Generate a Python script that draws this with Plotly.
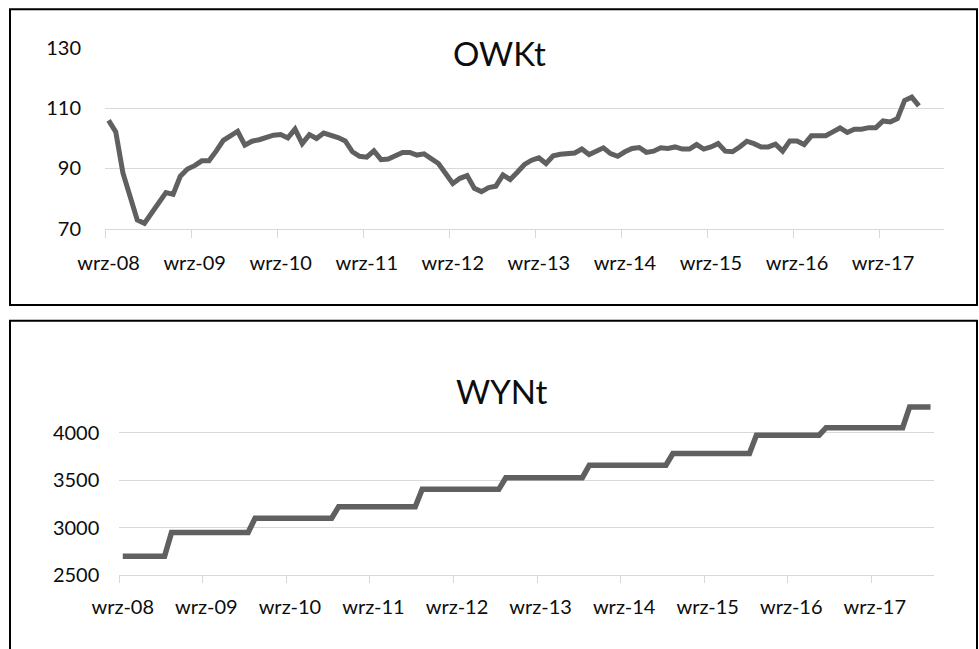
import plotly.graph_objects as go

W, H = 979, 649

# ---- data ----
month_names = ["sty", "lut", "mar", "kwi", "maj", "cze", "lip", "sie", "wrz", "paź", "lis", "gru"]
start_year, start_month = 2008, 9
n_months = 117
months = []
for k in range(n_months):
    m = (start_month - 1 + k) % 12
    y = start_year + (start_month - 1 + k) // 12
    months.append(f"{month_names[m]}-{y % 100:02d}")

owk = [
    105.9, 102.1, 88.5, 80.6, 72.9, 71.8, 75.1, 78.8, 82.0, 81.4, 87.4, 89.8,
    90.9, 92.5, 92.5, 95.7, 99.3, 100.8, 102.3, 97.7, 99.0, 99.5, 100.4, 101.0,
    101.2, 100.1, 103.0, 98.2, 101.2, 99.9, 101.7, 101.0, 100.2, 99.1, 95.5, 94.0,
    93.7, 95.8, 92.9, 93.1, 94.3, 95.3, 95.3, 94.4, 94.8, 93.3, 91.6, 88.3,
    85.0, 86.7, 87.6, 83.4, 82.3, 83.6, 84.1, 87.8, 86.3, 88.7, 91.3, 92.7,
    93.5, 91.6, 94.2, 94.7, 95.1, 95.1, 96.4, 94.6, 95.7, 96.8, 94.9, 94.0,
    95.5, 96.6, 96.9, 95.3, 95.7, 96.8, 96.6, 97.1, 96.4, 96.4, 97.9, 96.4,
    97.1, 98.2, 95.7, 95.5, 97.1, 99.0, 98.2, 97.1, 97.1, 98.0, 95.7, 99.1,
    99.1, 97.9, 100.8, 100.8, 100.8, 102.1, 103.4, 101.9, 103.0, 103.0, 103.5, 103.5,
    105.7, 105.4, 106.5, 112.5, 113.6, 110.7,
]

wyn = [
    2700, 2700, 2700, 2700, 2700, 2700, 2700, 2950, 2950, 2950, 2950, 2950,
    2950, 2950, 2950, 2950, 2950, 2950, 2950, 3100, 3100, 3100, 3100, 3100,
    3100, 3100, 3100, 3100, 3100, 3100, 3100, 3222, 3222, 3222, 3222, 3222,
    3222, 3222, 3222, 3222, 3222, 3222, 3222, 3405, 3405, 3405, 3405, 3405,
    3405, 3405, 3405, 3405, 3405, 3405, 3405, 3527, 3527, 3527, 3527, 3527,
    3527, 3527, 3527, 3527, 3527, 3527, 3527, 3658, 3658, 3658, 3658, 3658,
    3658, 3658, 3658, 3658, 3658, 3658, 3658, 3781, 3781, 3781, 3781, 3781,
    3781, 3781, 3781, 3781, 3781, 3781, 3781, 3975, 3975, 3975, 3975, 3975,
    3975, 3975, 3975, 3975, 3975, 4053, 4053, 4053, 4053, 4053, 4053, 4053,
    4053, 4053, 4053, 4053, 4053, 4272, 4272, 4272, 4272,
]

owk_ticks = [70, 90, 110, 130]
wyn_ticks = [2500, 3000, 3500, 4000]
label_idx = list(range(0, n_months, 12))
label_text = [months[i] for i in label_idx]

titles = ["OWKt", "WYNt"]

# ---- figure ----
LINE = "#606060"
GRID = "#d9d9d9"
TXT = "#0d0d0d"
FONT = "Lato"

def px_x(p):
    return p / W

def px_y(p):
    return 1 - p / H

fig = go.Figure()
fig.add_trace(go.Scatter(x=list(range(len(owk))), y=owk, mode="lines",
                         line=dict(color=LINE, width=5), xaxis="x", yaxis="y",
                         hoverinfo="skip"))
fig.add_trace(go.Scatter(x=list(range(len(wyn))), y=wyn, mode="lines",
                         line=dict(color=LINE, width=5.5), xaxis="x2", yaxis="y2",
                         hoverinfo="skip"))

xcommon = dict(
    range=[-0.5, n_months - 0.5], tickmode="array", tickvals=label_idx, ticktext=label_text,
    ticks="", showgrid=False, zeroline=False, showline=True, linecolor=GRID, linewidth=1,
    tickfont=dict(family=FONT, size=20, color=TXT),
    fixedrange=True, automargin=False,
)

fig.update_layout(
    template="none",
    width=W, height=H, autosize=False,
    margin=dict(l=0, r=0, t=0, b=0, pad=0),
    paper_bgcolor="white", plot_bgcolor="white",
    showlegend=False,
    xaxis=dict(**xcommon, domain=[px_x(105), px_x(944)], anchor="y",
               minor=dict(tickmode="linear", tick0=-0.5, dtick=12, ticks="outside",
                          ticklen=8, tickcolor=GRID, tickwidth=1, showgrid=False),
               ticklabelstandoff=16),
    yaxis=dict(domain=[px_y(228.7), px_y(47.7)], range=[70, 130], tickmode="array",
               tickvals=owk_ticks, ticks="", showgrid=True, gridcolor=GRID, gridwidth=1,
               zeroline=False, showline=False, anchor="x", automargin=False,
               tickfont=dict(family=FONT, size=20, color=TXT), ticklabelstandoff=23,
               fixedrange=True),
    xaxis2=dict(**xcommon, domain=[px_x(119.3), px_x(934)], anchor="y2",
                minor=dict(tickmode="linear", tick0=-0.5, dtick=12, ticks="outside",
                           ticklen=7, tickcolor=GRID, tickwidth=1, showgrid=False),
                ticklabelstandoff=14),
    yaxis2=dict(domain=[px_y(575.3), px_y(399.5)], range=[2500, 4350], tickmode="array",
                tickvals=wyn_ticks, ticks="", showgrid=True, gridcolor=GRID, gridwidth=1,
                zeroline=False, showline=False, anchor="x2", automargin=False,
                tickfont=dict(family=FONT, size=20, color=TXT), ticklabelstandoff=19,
                fixedrange=True),
)

# panel borders
for (y0, y1) in [(9.3, 305), (320.7, 660)]:
    fig.add_shape(type="rect", xref="paper", yref="paper",
                  x0=px_x(10), x1=px_x(977), y0=px_y(y1), y1=px_y(y0),
                  line=dict(color="black", width=2), fillcolor="rgba(0,0,0,0)", layer="above")

# titles
fig.add_annotation(text=titles[0], xref="paper", yref="paper", x=px_x(500), y=px_y(53.3),
                   xanchor="center", yanchor="middle", showarrow=False,
                   font=dict(family=FONT, size=33, color=TXT))
fig.add_annotation(text=titles[1], xref="paper", yref="paper", x=px_x(501), y=px_y(391),
                   xanchor="center", yanchor="middle", showarrow=False,
                   font=dict(family=FONT, size=33, color=TXT))

fig.write_html("out.html", config={"displayModeBar": False},
               post_script="document.body.style.margin='0';document.body.style.overflow='hidden';")
